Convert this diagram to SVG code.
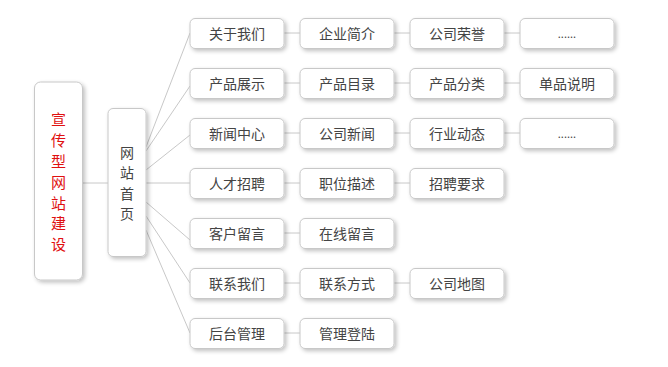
<svg xmlns="http://www.w3.org/2000/svg" width="668" height="367" viewBox="0 0 668 367">
<defs>
<filter id="sh" x="-20%" y="-20%" width="150%" height="150%">
<feGaussianBlur in="SourceAlpha" stdDeviation="2"/>
<feOffset dx="1.5" dy="2" result="b"/>
<feComponentTransfer><feFuncA type="linear" slope="0.25"/></feComponentTransfer>
<feMerge><feMergeNode/><feMergeNode in="SourceGraphic"/></feMerge>
</filter>
</defs>
<style>
.box{fill:#fff;stroke:#c8c8c8;stroke-width:1;filter:url(#sh)}
.t{font-family:"Noto Sans CJK SC","Noto Sans",sans-serif;font-size:14px;fill:#444;text-anchor:middle;dominant-baseline:central}
.r{fill:#e01010;font-size:15px}
.c{stroke:#c8c8c8;stroke-width:1;fill:none}
</style>
<rect width="668" height="367" fill="#fff"/>
<g id="connectors">
<line class="c" x1="83" y1="183" x2="108" y2="183"/>
<line class="c" x1="146" y1="147" x2="190" y2="33"/>
<line class="c" x1="146" y1="151" x2="190" y2="86"/>
<line class="c" x1="146" y1="170" x2="190" y2="135"/>
<line class="c" x1="146" y1="183" x2="190" y2="183"/>
<line class="c" x1="146" y1="202" x2="190" y2="240"/>
<line class="c" x1="146" y1="216" x2="190" y2="283"/>
<line class="c" x1="146" y1="230" x2="190" y2="333"/>
<line class="c" x1="284" y1="33" x2="300" y2="33"/>
<line class="c" x1="394" y1="33" x2="410" y2="33"/>
<line class="c" x1="504" y1="33" x2="520" y2="33"/>
<line class="c" x1="284" y1="83" x2="300" y2="83"/>
<line class="c" x1="394" y1="83" x2="410" y2="83"/>
<line class="c" x1="504" y1="83" x2="520" y2="83"/>
<line class="c" x1="284" y1="133" x2="300" y2="133"/>
<line class="c" x1="394" y1="133" x2="410" y2="133"/>
<line class="c" x1="504" y1="133" x2="520" y2="133"/>
<line class="c" x1="284" y1="183" x2="300" y2="183"/>
<line class="c" x1="394" y1="183" x2="410" y2="183"/>
<line class="c" x1="284" y1="233" x2="300" y2="233"/>
<line class="c" x1="284" y1="283" x2="300" y2="283"/>
<line class="c" x1="394" y1="283" x2="410" y2="283"/>
<line class="c" x1="284" y1="333" x2="300" y2="333"/>
</g>
<g id="root"><rect class="box" x="34.5" y="82" width="48" height="198" rx="6"/>
<text class="t r" x="58.5" y="118">宣</text><text class="t r" x="58.5" y="139">传</text><text class="t r" x="58.5" y="160">型</text><text class="t r" x="58.5" y="181">网</text><text class="t r" x="58.5" y="202">站</text><text class="t r" x="58.5" y="222">建</text><text class="t r" x="58.5" y="243">设</text></g>
<g id="home"><rect class="box" x="108" y="108.5" width="38" height="148" rx="5"/>
<text class="t" x="127" y="152">网</text><text class="t" x="127" y="172">站</text><text class="t" x="127" y="193">首</text><text class="t" x="127" y="213">页</text></g>
<g id="n1"><rect class="box" x="190" y="18.5" width="94" height="30" rx="5"/><text class="t" x="237" y="33">关于我们</text></g>
<g id="n2"><rect class="box" x="300" y="18.5" width="94" height="30" rx="5"/><text class="t" x="347" y="33">企业简介</text></g>
<g id="n3"><rect class="box" x="410" y="18.5" width="94" height="30" rx="5"/><text class="t" x="457" y="33">公司荣誉</text></g>
<g id="n4"><rect class="box" x="520" y="18.5" width="94" height="30" rx="5"/><text class="t" x="567" y="33" style="font-size:11px">......</text></g>
<g id="n5"><rect class="box" x="190" y="68.5" width="94" height="30" rx="5"/><text class="t" x="237" y="83">产品展示</text></g>
<g id="n6"><rect class="box" x="300" y="68.5" width="94" height="30" rx="5"/><text class="t" x="347" y="83">产品目录</text></g>
<g id="n7"><rect class="box" x="410" y="68.5" width="94" height="30" rx="5"/><text class="t" x="457" y="83">产品分类</text></g>
<g id="n8"><rect class="box" x="520" y="68.5" width="94" height="30" rx="5"/><text class="t" x="567" y="83">单品说明</text></g>
<g id="n9"><rect class="box" x="190" y="118.5" width="94" height="30" rx="5"/><text class="t" x="237" y="133">新闻中心</text></g>
<g id="n10"><rect class="box" x="300" y="118.5" width="94" height="30" rx="5"/><text class="t" x="347" y="133">公司新闻</text></g>
<g id="n11"><rect class="box" x="410" y="118.5" width="94" height="30" rx="5"/><text class="t" x="457" y="133">行业动态</text></g>
<g id="n12"><rect class="box" x="520" y="118.5" width="94" height="30" rx="5"/><text class="t" x="567" y="133" style="font-size:11px">......</text></g>
<g id="n13"><rect class="box" x="190" y="168.5" width="94" height="30" rx="5"/><text class="t" x="237" y="183">人才招聘</text></g>
<g id="n14"><rect class="box" x="300" y="168.5" width="94" height="30" rx="5"/><text class="t" x="347" y="183">职位描述</text></g>
<g id="n15"><rect class="box" x="410" y="168.5" width="94" height="30" rx="5"/><text class="t" x="457" y="183">招聘要求</text></g>
<g id="n16"><rect class="box" x="190" y="218.5" width="94" height="30" rx="5"/><text class="t" x="237" y="233">客户留言</text></g>
<g id="n17"><rect class="box" x="300" y="218.5" width="94" height="30" rx="5"/><text class="t" x="347" y="233">在线留言</text></g>
<g id="n18"><rect class="box" x="190" y="268.5" width="94" height="30" rx="5"/><text class="t" x="237" y="283">联系我们</text></g>
<g id="n19"><rect class="box" x="300" y="268.5" width="94" height="30" rx="5"/><text class="t" x="347" y="283">联系方式</text></g>
<g id="n20"><rect class="box" x="410" y="268.5" width="94" height="30" rx="5"/><text class="t" x="457" y="283">公司地图</text></g>
<g id="n21"><rect class="box" x="190" y="318.5" width="94" height="30" rx="5"/><text class="t" x="237" y="333">后台管理</text></g>
<g id="n22"><rect class="box" x="300" y="318.5" width="94" height="30" rx="5"/><text class="t" x="347" y="333">管理登陆</text></g>
</svg>
